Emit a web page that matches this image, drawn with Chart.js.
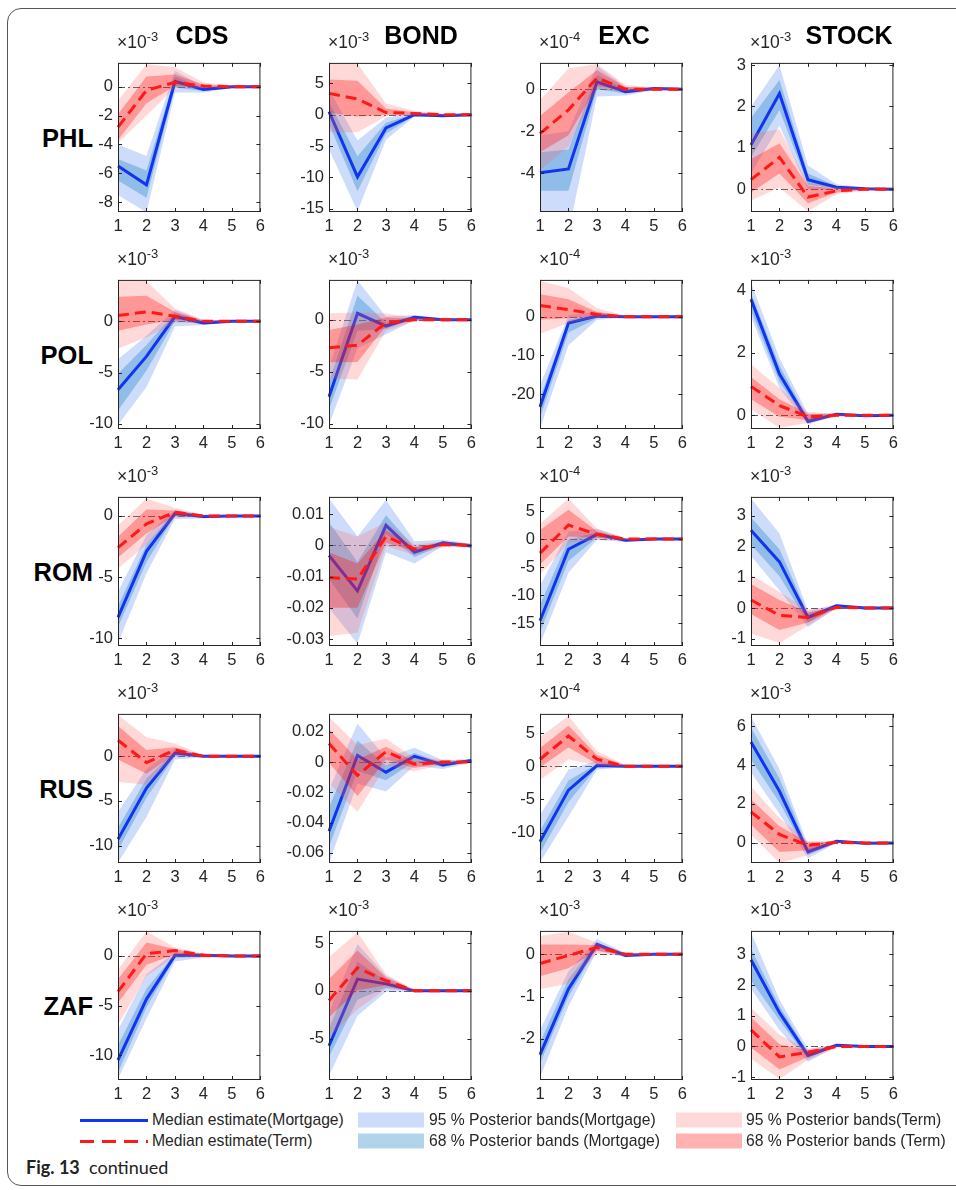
<!DOCTYPE html>
<html>
<head>
<meta charset="utf-8">
<script src="https://cdn.jsdelivr.net/npm/chart.js@4.4.1/dist/chart.umd.min.js"></script>
<style>
  body{margin:0;background:#fff;width:956px;height:1190px;overflow:hidden;position:relative;
       font-family:"Liberation Sans",Arial,sans-serif;color:#262626}
  .frame{position:absolute;left:7px;top:8px;width:1000px;height:1176px;border:1.3px solid #555;border-radius:14px}
  canvas{position:absolute}
  .title{position:absolute;font-weight:bold;font-size:25px;color:#000;transform:translate(-50%,-50%);white-space:nowrap}
  .rowlab{position:absolute;font-weight:bold;font-size:25.5px;color:#000;transform:translate(-100%,-50%);white-space:nowrap}
  .expo{position:absolute;font-size:17.5px;line-height:18px;color:#262626;white-space:nowrap}
  .expo sup{font-size:13px;vertical-align:7px;line-height:0}
  .leg{position:absolute;font-size:15.7px;color:#262626;white-space:nowrap;transform:translateY(-50%)}
  .sw{position:absolute;height:15px;transform:translateY(-50%)}
  .caption{position:absolute;left:26px;top:1156px;font-family:Lato,"Noto Sans",sans-serif;font-size:18px;color:#222}
</style>
</head>
<body>
<div class="frame"></div>
<script>
// ---- data (values as shown on each axis, i.e. already divided by the x10^k factor) ----
const X_LABELS = ['1','2','3','4','5','6'];
const ROWS = ['PHL','POL','ROM','RUS','ZAF'];
const COLS = ['CDS','BOND','EXC','STOCK'];

const Y_MIN = [
  [-8.68, -15.5, -5.84, -0.55],
  [-10.5, -10.5, -29, -0.44],
  [-10.65, -0.0322, -19, -1.24],
  [-11.96, -0.0667, -14.6, -1.03],
  [-12.5, -9.34, -2.97, -1.09]
];
const Y_MAX = [
  [1.65, 8.25, 1.25, 3.05],
  [4.04, 3.82, 9.5, 4.33],
  [1.56, 0.0155, 7.5, 3.62],
  [4.75, 0.0318, 7.9, 6.62],
  [2.52, 6.28, 0.55, 3.76]
];
const Y_TICKS = [
  [[-8,-6,-4,-2,0], [-15,-10,-5,0,5], [-4,-2,0], [0,1,2,3]],
  [[-10,-5,0], [-10,-5,0], [-20,-10,0], [0,2,4]],
  [[-10,-5,0], [-0.03,-0.02,-0.01,0,0.01], [-15,-10,-5,0,5], [-1,0,1,2,3]],
  [[-10,-5,0], [-0.06,-0.04,-0.02,0,0.02], [-10,-5,0,5], [0,2,4,6]],
  [[-10,-5,0], [-5,0,5], [-2,-1,0], [-1,0,1,2,3]]
];
const EXPONENTS = [
  ['-3','-3','-4','-3'],
  ['-3','-3','-4','-3'],
  ['-3', null,'-4','-3'],
  ['-3', null,'-4','-3'],
  ['-3','-3','-3','-3']
];

// PHL
const PHL_CDS_MORT = { med:[-5.5,-6.8,0.37,-0.2,0,0], hi68:[-5.0,-5.8,0.7,-0.1,0.03,0.02], lo68:[-6.5,-7.7,-0.05,-0.3,-0.05,-0.02], hi95:[-4.0,-4.8,1.1,0.0,0.08,0.04], lo95:[-7.5,-8.7,-0.4,-0.4,-0.1,-0.04] };
const PHL_CDS_TERM = { med:[-2.8,-0.25,0.3,0.05,0,0], hi68:[-1.9,0.7,0.85,0.15,0.05,0.02], lo68:[-3.7,-1.15,0.05,-0.05,-0.05,-0.02], hi95:[-0.95,1.55,1.35,0.3,0.1,0.04], lo95:[-3.9,-2.0,-0.05,-0.1,-0.08,-0.04] };
const PHL_BOND_MORT = { med:[0.5,-9.9,-2.1,0,-0.15,0], hi68:[2.0,-6.6,-1.3,0.15,-0.05,0.05], lo68:[-1.5,-12.2,-3.0,-0.15,-0.25,-0.05], hi95:[4.0,-4.1,-0.5,0.3,0.05,0.1], lo95:[-5.5,-15.4,-4.0,-0.3,-0.35,-0.1] };
const PHL_BOND_TERM = { med:[3.4,2.5,0.35,0.2,0,0], hi68:[5.6,5.4,1.0,0.4,0.1,0.05], lo68:[0.3,-0.3,0,0,-0.1,-0.05], hi95:[9.0,8.1,1.8,0.6,0.2,0.1], lo95:[-2.8,-2.8,-0.25,-0.1,-0.15,-0.1] };
const PHL_EXC_MORT = { med:[-3.97,-3.79,0.35,-0.12,0.03,0], hi68:[-3.0,-2.87,0.68,0,0.06,0.02], lo68:[-4.83,-4.83,0,-0.2,0,-0.02], hi95:[-2.2,-2.0,1.1,0.1,0.1,0.04], lo95:[-6.5,-6.8,-0.35,-0.3,-0.05,-0.04] };
const PHL_EXC_TERM = { med:[-2.11,-0.98,0.53,0,0,0], hi68:[-1.28,-0.15,0.9,0.1,0.04,0.02], lo68:[-3.0,-2.19,0.15,-0.05,-0.04,-0.02], hi95:[-0.53,0.98,1.2,0.2,0.08,0.04], lo95:[-3.85,-2.72,0,-0.1,-0.08,-0.04] };
const PHL_STOCK_MORT = { med:[1.07,2.31,0.23,0.05,0.01,0], hi68:[1.72,2.64,0.38,0.08,0.03,0.01], lo68:[0.77,1.91,0.11,0.02,-0.01,-0.01], hi95:[1.99,3.0,0.57,0.12,0.04,0.02], lo95:[0.38,1.53,0,0,-0.02,-0.02] };
const PHL_STOCK_TERM = { med:[0.23,0.77,-0.19,-0.04,0,0], hi68:[0.73,1.11,0.08,0.02,0.02,0.01], lo68:[-0.08,0.38,-0.34,-0.08,-0.02,-0.01], hi95:[1.34,1.45,0.15,0.05,0.03,0.02], lo95:[-0.27,0.04,-0.53,-0.12,-0.03,-0.02] };
// POL
const POL_CDS_MORT = { med:[-6.68,-3.42,0.47,-0.15,0,0], hi68:[-5.1,-2.3,0.8,0,0.05,0.03], lo68:[-8.7,-4.8,0,-0.25,-0.05,-0.03], hi95:[-3.7,-1.4,1.1,0.1,0.1,0.05], lo95:[-10.1,-6.4,-0.5,-0.35,-0.1,-0.05] };
const POL_CDS_TERM = { med:[0.56,0.93,0.5,0,0,0], hi68:[2.4,2.5,0.9,0.05,0.03,0.02], lo68:[-0.93,-0.3,0.15,-0.05,-0.03,-0.02], hi95:[4.5,3.9,1.25,0.15,0.06,0.04], lo95:[-2.64,-1.55,-0.15,-0.1,-0.06,-0.04] };
const POL_BOND_MORT = { med:[-7.4,0.61,-0.61,0.24,0,0], hi68:[-6.0,2.3,-0.3,0.35,0.05,0.03], lo68:[-8.6,-1.07,-0.9,0.1,-0.05,-0.03], hi95:[-4.6,3.76,0.3,0.45,0.1,0.05], lo95:[-10.1,-2.75,-1.4,-0.05,-0.1,-0.05] };
const POL_BOND_TERM = { med:[-2.7,-2.45,-0.3,0,0,0], hi68:[-1.0,-0.46,0.2,0.1,0.05,0.03], lo68:[-4.1,-4.07,-0.6,-0.1,-0.05,-0.03], hi95:[0.6,0.7,0.6,0.2,0.1,0.05], lo95:[-5.66,-5.75,-1.07,-0.15,-0.1,-0.05] };
const POL_EXC_MORT = { med:[-23.3,-1.65,0.16,0,0,0], hi68:[-21,-0.8,0.6,0.15,0.05,0.03], lo68:[-26,-4.1,-0.4,-0.15,-0.05,-0.03], hi95:[-17.7,0.4,1.2,0.3,0.1,0.05], lo95:[-28.8,-7.4,-0.8,-0.3,-0.1,-0.05] };
const POL_EXC_TERM = { med:[2.9,1.8,0.58,0,0,0], hi68:[5.8,4.5,1.2,0.2,0.05,0.03], lo68:[-0.8,-0.4,0.16,-0.1,-0.05,-0.03], hi95:[9.2,7.4,2.2,0.3,0.1,0.05], lo95:[-4.4,-1.65,-0.25,-0.2,-0.1,-0.05] };
const POL_STOCK_MORT = { med:[3.71,1.32,-0.2,0.03,-0.02,0], hi68:[3.9,1.58,-0.1,0.05,0,0.01], lo68:[3.36,1.07,-0.25,0.01,-0.03,-0.01], hi95:[4.25,1.83,0.03,0.07,0.01,0.02], lo95:[3.16,0.87,-0.3,0,-0.04,-0.02] };
const POL_STOCK_TERM = { med:[0.92,0.31,-0.05,0,0,0], hi68:[1.22,0.51,0.05,0.03,0.01,0.01], lo68:[0.51,-0.05,-0.15,-0.03,-0.01,-0.01], hi95:[1.63,0.87,0.1,0.05,0.02,0.02], lo95:[0.2,-0.4,-0.25,-0.05,-0.02,-0.02] };
// ROM
const ROM_CDS_MORT = { med:[-8.3,-2.9,0.2,-0.05,0,0], hi68:[-7.4,-2.34,0.4,0.05,0.03,0.02], lo68:[-9.1,-3.77,0,-0.15,-0.03,-0.02], hi95:[-6.2,-1.56,0.5,0.1,0.05,0.03], lo95:[-10.4,-4.7,-0.26,-0.2,-0.05,-0.03] };
const ROM_CDS_TERM = { med:[-2.6,-0.65,0.31,0,0,0], hi68:[-1.7,0.52,0.44,0.05,0.03,0.02], lo68:[-3.4,-1.43,0,-0.05,-0.03,-0.02], hi95:[-0.8,1.43,0.65,0.1,0.05,0.03], lo95:[-4.3,-2.34,-0.13,-0.05,-0.05,-0.03] };
const ROM_BOND_MORT = { med:[-0.0032,-0.0146,0.0064,-0.0022,0.0008,-0.0002], hi68:[0.0074,-0.0053,0.0096,-0.0007,0.0012,0.0002], lo68:[-0.0108,-0.0234,0.0038,-0.0037,0.0002,-0.0005], hi95:[0.015,0.0028,0.0145,0.0013,0.0018,0.0006], lo95:[-0.02,-0.0315,-0.0022,-0.0058,-0.0002,-0.0007] };
const ROM_BOND_TERM = { med:[-0.0103,-0.0108,0.0028,-0.0012,0.0003,0], hi68:[-0.0022,-0.0058,0.0048,-0.0005,0.0007,0.0003], lo68:[-0.02,-0.02,0.0008,-0.0019,-0.0002,-0.0003], hi95:[0.0059,0.0028,0.0074,0.0003,0.0012,0.0006], lo95:[-0.029,-0.028,-0.0002,-0.0032,-0.0006,-0.0006] };
const ROM_EXC_MORT = { med:[-14.5,-1.8,0.85,-0.2,0,0], hi68:[-11.7,-0.1,1.2,-0.05,0.05,0.03], lo68:[-16.5,-3.9,0.3,-0.35,-0.05,-0.03], hi95:[-8.3,1.3,1.86,0.1,0.1,0.05], lo95:[-18.7,-6.0,-0.1,-0.5,-0.1,-0.05] };
const ROM_EXC_TERM = { med:[-2.5,2.5,0.85,0,0,0], hi68:[1.6,5.2,1.4,0.1,0.05,0.03], lo68:[-4.5,0.45,0.3,-0.1,-0.05,-0.03], hi95:[2.7,7.2,1.86,0.2,0.1,0.05], lo95:[-6.3,-0.7,-0.1,-0.2,-0.1,-0.05] };
const ROM_STOCK_MORT = { med:[2.53,1.5,-0.31,0.07,0,0], hi68:[2.95,1.91,-0.2,0.1,0.02,0.01], lo68:[2.07,1.03,-0.47,0.03,-0.02,-0.01], hi95:[3.57,2.43,-0.1,0.12,0.04,0.02], lo95:[1.7,0.57,-0.62,0,-0.04,-0.02] };
const ROM_STOCK_TERM = { med:[0.26,-0.24,-0.31,0.02,0,0], hi68:[0.78,0.26,-0.15,0.04,0.01,0.01], lo68:[-0.2,-0.72,-0.47,0,-0.01,-0.01], hi95:[1.08,0.52,-0.05,0.05,0.02,0.02], lo95:[-0.83,-1.14,-0.57,-0.02,-0.02,-0.02] };
// RUS
const RUS_CDS_MORT = { med:[-9.3,-3.57,0.36,0,0,0], hi68:[-8.0,-2.5,0.6,0.05,0.03,0.02], lo68:[-10.5,-4.64,0,-0.05,-0.03,-0.02], hi95:[-6.25,-1.43,0.9,0.1,0.05,0.03], lo95:[-11.9,-6.8,-0.36,-0.1,-0.05,-0.03] };
const RUS_CDS_TERM = { med:[1.8,-0.71,0.71,0,0,0], hi68:[3.4,0.71,1.0,0.05,0.03,0.02], lo68:[-0.36,-1.96,0.25,-0.05,-0.03,-0.02], hi95:[4.64,2.14,1.43,0.1,0.05,0.03], lo95:[-2.86,-3.2,0,-0.1,-0.05,-0.03] };
const RUS_BOND_MORT = { med:[-0.0457,0.0044,-0.0067,0.0038,-0.0019,0.0011], hi68:[-0.03,0.0143,-0.0025,0.0059,-0.0004,0.0015], lo68:[-0.056,-0.0057,-0.012,0.0006,-0.0032,0.0005], hi95:[-0.0183,0.0255,0.0027,0.0095,0.0011,0.002], lo95:[-0.0667,-0.0141,-0.0194,-0.0025,-0.0046,-0.0003] };
const RUS_BOND_TERM = { med:[0.0122,-0.0088,0.0069,-0.0015,0,0], hi68:[0.0217,0.0017,0.0101,0.0006,0.0008,0.0004], lo68:[-0.0004,-0.0225,0.0017,-0.004,-0.0008,-0.0004], hi95:[0.0297,0.0112,0.0154,0.0027,0.0015,0.0008], lo95:[-0.0141,-0.033,-0.0025,-0.0061,-0.0015,-0.0008] };
const RUS_EXC_MORT = { med:[-11.4,-3.6,0.1,0,0,0], hi68:[-9.76,-2.16,0.34,0.05,0.03,0.02], lo68:[-13.1,-5.4,-0.14,-0.05,-0.03,-0.02], hi95:[-7.36,-0.53,0.82,0.1,0.05,0.03], lo95:[-14.5,-7.6,-0.53,-0.1,-0.05,-0.03] };
const RUS_EXC_TERM = { med:[1.06,4.57,1.06,0,0,0], hi68:[2.74,6.1,1.68,0.1,0.03,0.02], lo68:[-0.14,2.84,0.34,-0.1,-0.03,-0.02], hi95:[4.42,7.6,2.26,0.2,0.05,0.03], lo95:[-2.07,1.06,0.1,-0.2,-0.05,-0.03] };
const RUS_STOCK_MORT = { med:[5.18,2.65,-0.46,0.08,-0.02,0], hi68:[5.92,3.3,-0.29,0.12,0,0.01], lo68:[4.28,2.08,-0.62,0.04,-0.04,-0.01], hi95:[6.49,3.79,-0.13,0.15,0.02,0.02], lo95:[3.63,1.5,-0.78,0,-0.06,-0.02] };
const RUS_STOCK_TERM = { med:[1.59,0.44,-0.13,0.03,0,0], hi68:[2.24,0.85,0.03,0.06,0.02,0.01], lo68:[0.93,-0.46,-0.38,0,-0.02,-0.01], hi95:[2.9,1.26,0.11,0.1,0.04,0.02], lo95:[0.44,-1.03,-0.62,-0.03,-0.04,-0.02] };
// ZAF
const ZAF_CDS_MORT = { med:[-10.5,-4.35,0.06,0.06,0,0], hi68:[-9.0,-3.3,0.22,0.15,0.05,0.03], lo68:[-11.75,-5.2,-0.2,-0.05,-0.05,-0.03], hi95:[-7.44,-1.85,0.38,0.25,0.1,0.05], lo95:[-12.4,-6.3,-0.57,-0.15,-0.1,-0.05] };
const ZAF_CDS_TERM = { med:[-3.6,0.22,0.54,0.06,0,0], hi68:[-2.33,1.34,0.7,0.15,0.05,0.03], lo68:[-4.73,-0.9,0.13,-0.05,-0.05,-0.03], hi95:[-1.37,2.46,0.86,0.25,0.1,0.05], lo95:[-6.96,-2.0,-0.1,-0.15,-0.1,-0.05] };
const ZAF_BOND_MORT = { med:[-5.75,1.23,0.73,0,0,0], hi68:[-3.9,3.06,1.06,0.05,0.03,0.02], lo68:[-6.9,-0.93,0.33,-0.05,-0.03,-0.02], hi95:[-2.26,4.9,1.56,0.1,0.05,0.03], lo95:[-8.9,-2.6,-0.1,-0.1,-0.05,-0.03] };
const ZAF_BOND_TERM = { med:[-1.0,2.4,1.06,0,0,0], hi68:[1.23,4.22,1.4,0.05,0.03,0.02], lo68:[-2.76,0.07,0.56,-0.05,-0.03,-0.02], hi95:[3.55,6.1,1.73,0.1,0.05,0.03], lo95:[-4.9,-1.93,0.23,-0.05,-0.05,-0.03] };
const ZAF_EXC_MORT = { med:[-2.37,-0.82,0.23,-0.03,0,0], hi68:[-2.09,-0.59,0.28,0,0.01,0.01], lo68:[-2.58,-1.0,0.16,-0.05,-0.01,-0.01], hi95:[-1.79,-0.4,0.36,0.02,0.02,0.02], lo95:[-2.91,-1.23,0.08,-0.07,-0.02,-0.02] };
const ZAF_EXC_TERM = { med:[-0.22,-0.03,0.16,0,0,0], hi68:[0.23,0.23,0.21,0.02,0.01,0.01], lo68:[-0.52,-0.33,0.08,-0.02,-0.01,-0.01], hi95:[0.43,0.53,0.27,0.04,0.02,0.02], lo95:[-0.82,-0.7,0.01,-0.04,-0.02,-0.02] };
const ZAF_STOCK_MORT = { med:[2.82,1.1,-0.29,0.04,0,0], hi68:[3.18,1.31,-0.19,0.06,0.01,0.01], lo68:[2.15,0.85,-0.39,0.02,-0.01,-0.01], hi95:[3.72,1.52,-0.08,0.08,0.02,0.02], lo95:[1.88,0.54,-0.5,0,-0.02,-0.02] };
const ZAF_STOCK_TERM = { med:[0.54,-0.34,-0.19,0,0,0], hi68:[0.95,0.07,-0.13,0.02,0.01,0.01], lo68:[-0.03,-0.75,-0.34,-0.02,-0.01,-0.01], hi95:[1.26,0.38,-0.08,0.04,0.02,0.02], lo95:[-0.39,-1.06,-0.44,-0.04,-0.02,-0.02] };

const MORT = [
  [PHL_CDS_MORT, PHL_BOND_MORT, PHL_EXC_MORT, PHL_STOCK_MORT],
  [POL_CDS_MORT, POL_BOND_MORT, POL_EXC_MORT, POL_STOCK_MORT],
  [ROM_CDS_MORT, ROM_BOND_MORT, ROM_EXC_MORT, ROM_STOCK_MORT],
  [RUS_CDS_MORT, RUS_BOND_MORT, RUS_EXC_MORT, RUS_STOCK_MORT],
  [ZAF_CDS_MORT, ZAF_BOND_MORT, ZAF_EXC_MORT, ZAF_STOCK_MORT]
];
const TERM = [
  [PHL_CDS_TERM, PHL_BOND_TERM, PHL_EXC_TERM, PHL_STOCK_TERM],
  [POL_CDS_TERM, POL_BOND_TERM, POL_EXC_TERM, POL_STOCK_TERM],
  [ROM_CDS_TERM, ROM_BOND_TERM, ROM_EXC_TERM, ROM_STOCK_TERM],
  [RUS_CDS_TERM, RUS_BOND_TERM, RUS_EXC_TERM, RUS_STOCK_TERM],
  [ZAF_CDS_TERM, ZAF_BOND_TERM, ZAF_EXC_TERM, ZAF_STOCK_TERM]
];

// ---- layout / style ----
const COL_X = [118, 329, 540, 751];      // plot-area left edges
const ROW_Y = [56, 273, 490, 707, 924];  // plot-area top edges
const PW = 144, PH = 156;
const Y_AXIS_W = 60, PAD_T = 8, PAD_R = 8, X_AXIS_H = 30;
const TITLE_X = [202, 421, 624, 849];
const FONT = '"Liberation Sans", Arial, sans-serif';
const AXIS_COL = '#262626';

const BLUE = 'rgb(18,52,240)';
const RED = 'rgb(255,24,24)';
const B95 = 'rgba(100,150,240,0.33)';
const B68 = 'rgba(0,114,189,0.30)';
const R95 = 'rgba(255,100,100,0.25)';
const R68 = 'rgba(255,0,0,0.30)';

// inward box ticks + zero line, like the matlab axes
const axesBox = {
  id: 'axesBox',
  beforeDatasetsDraw(chart){
    const {ctx, chartArea:a, scales:{y}} = chart;
    const py = Math.round(y.getPixelForValue(0)) + 0.5;
    ctx.save();
    ctx.strokeStyle = '#5a5a5a';
    ctx.lineWidth = 1;
    ctx.setLineDash([7,3,2,3]);
    ctx.beginPath();
    ctx.moveTo(a.left, py); ctx.lineTo(a.right, py);
    ctx.stroke();
    ctx.restore();
  },
  afterDraw(chart){
    const {ctx, chartArea:a, scales:{x, y}} = chart;
    ctx.save();
    ctx.strokeStyle = AXIS_COL;
    ctx.lineWidth = 1;
    ctx.strokeRect(a.left + 0.5, a.top + 0.5, a.right - a.left - 1, a.bottom - a.top - 1);
    ctx.beginPath();
    y.ticks.forEach(t => {
      const py = Math.round(y.getPixelForValue(t.value)) + 0.5;
      ctx.moveTo(a.left, py); ctx.lineTo(a.left + 4, py);
      ctx.moveTo(a.right - 4, py); ctx.lineTo(a.right, py);
    });
    X_LABELS.forEach((_, i) => {
      const px = Math.round(x.getPixelForValue(i)) + 0.5;
      ctx.moveTo(px, a.bottom); ctx.lineTo(px, a.bottom - 4);
      ctx.moveTo(px, a.top); ctx.lineTo(px, a.top + 4);
    });
    ctx.stroke();
    ctx.restore();
  }
};

function bandDatasets(s, c95, c68, lineCol, dashed, base){
  const band = { borderWidth:0, pointRadius:0, tension:0 };
  return [
    Object.assign({ data:s.hi95, fill:'+1', backgroundColor:c95, order:base+4 }, band),
    Object.assign({ data:s.lo95, fill:false, order:base+4 }, band),
    Object.assign({ data:s.hi68, fill:'+1', backgroundColor:c68, order:base+3 }, band),
    Object.assign({ data:s.lo68, fill:false, order:base+3 }, band),
    { data:s.med, fill:false, borderColor:lineCol, borderWidth:3, pointRadius:0, tension:0,
      borderDash: dashed ? [11,6] : [], order:base+2 }
  ];
}

function fmt(v){ return String(Number(v.toFixed(6))); }

function addText(cls, txt, left, top, html){
  const d = document.createElement('div');
  d.className = cls;
  d.style.left = left + 'px';
  d.style.top = top + 'px';
  if(html) d.innerHTML = txt; else d.textContent = txt;
  document.body.appendChild(d);
  return d;
}

ROWS.forEach((rowName, r) => {
  addText('rowlab', rowName, 93, ROW_Y[r] + 82);
  COLS.forEach((colName, c) => {
    const cv = document.createElement('canvas');
    const w = Y_AXIS_W + PW + PAD_R, h = PAD_T + PH + X_AXIS_H;
    cv.width = w; cv.height = h;
    cv.style.left = (COL_X[c] - Y_AXIS_W) + 'px';
    cv.style.top = (ROW_Y[r] - PAD_T) + 'px';
    cv.style.width = w + 'px'; cv.style.height = h + 'px';
    document.body.appendChild(cv);

    const ticks = Y_TICKS[r][c];
    const tickFont = { family: FONT, size: 16.5 };
    new Chart(cv, {
      type: 'line',
      data: {
        labels: X_LABELS,
        datasets: [
          ...bandDatasets(MORT[r][c], B95, B68, BLUE, false, 6),
          ...bandDatasets(TERM[r][c], R95, R68, RED, true, 0)
        ]
      },
      options: {
        responsive: false,
        animation: false,
        devicePixelRatio: 1,
        layout: { padding: { top: PAD_T, right: PAD_R, left: 0, bottom: 0 } },
        plugins: { legend: { display: false }, tooltip: { enabled: false } },
        scales: {
          x: {
            type: 'category', offset: false,
            grid: { display: false, drawTicks: false }, border: { display: false },
            ticks: { font: tickFont, color: AXIS_COL, padding: 5, maxRotation: 0, autoSkip: false },
            afterFit: sc => { sc.height = X_AXIS_H; }
          },
          y: {
            type: 'linear', min: Y_MIN[r][c], max: Y_MAX[r][c],
            grid: { display: false, drawTicks: false }, border: { display: false },
            ticks: { font: tickFont, color: AXIS_COL, padding: 5, autoSkip: false, callback: v => fmt(v) },
            afterBuildTicks: sc => { sc.ticks = ticks.map(v => ({ value: v })); },
            afterFit: sc => { sc.width = Y_AXIS_W; }
          }
        }
      },
      plugins: [axesBox]
    });

    const ex = EXPONENTS[r][c];
    if(ex) addText('expo', '&times;10<sup>' + ex + '</sup>', COL_X[c] - 1, ROW_Y[r] - 23, true);
  });
});

COLS.forEach((name, c) => addText('title', name, TITLE_X[c], 35));

// ---- legend ----
const LEG_Y = [1120, 1141];
function lineSample(y, color, dashed){
  const d = document.createElement('div');
  d.style.cssText = 'position:absolute;left:80px;width:68px;height:3px;top:' + (y - 1.5) + 'px;' +
    (dashed ? 'background:repeating-linear-gradient(90deg,' + color + ' 0 14px,transparent 14px 22px)'
            : 'background:' + color);
  document.body.appendChild(d);
}
function swatch(x, y, color){
  const d = document.createElement('div');
  d.className = 'sw';
  d.style.left = x + 'px'; d.style.top = y + 'px'; d.style.width = '66px';
  d.style.background = color;
  document.body.appendChild(d);
}
lineSample(LEG_Y[0], BLUE, false);
lineSample(LEG_Y[1], RED, true);
addText('leg', 'Median estimate(Mortgage)', 152, LEG_Y[0]);
addText('leg', 'Median estimate(Term)', 152, LEG_Y[1]);
swatch(358, LEG_Y[0], B95);
swatch(358, LEG_Y[1], B68);
addText('leg', '95 % Posterior bands(Mortgage)', 429, LEG_Y[0]);
addText('leg', '68 % Posterior bands (Mortgage)', 429, LEG_Y[1]);
swatch(676, LEG_Y[0], R95);
swatch(676, LEG_Y[1], R68);
addText('leg', '95 % Posterior bands(Term)', 746, LEG_Y[0]);
addText('leg', '68 % Posterior bands (Term)', 746, LEG_Y[1]);

addText('caption', '<b>Fig. 13</b>&nbsp; continued', 26, 1156, true);
</script>
</body>
</html>
